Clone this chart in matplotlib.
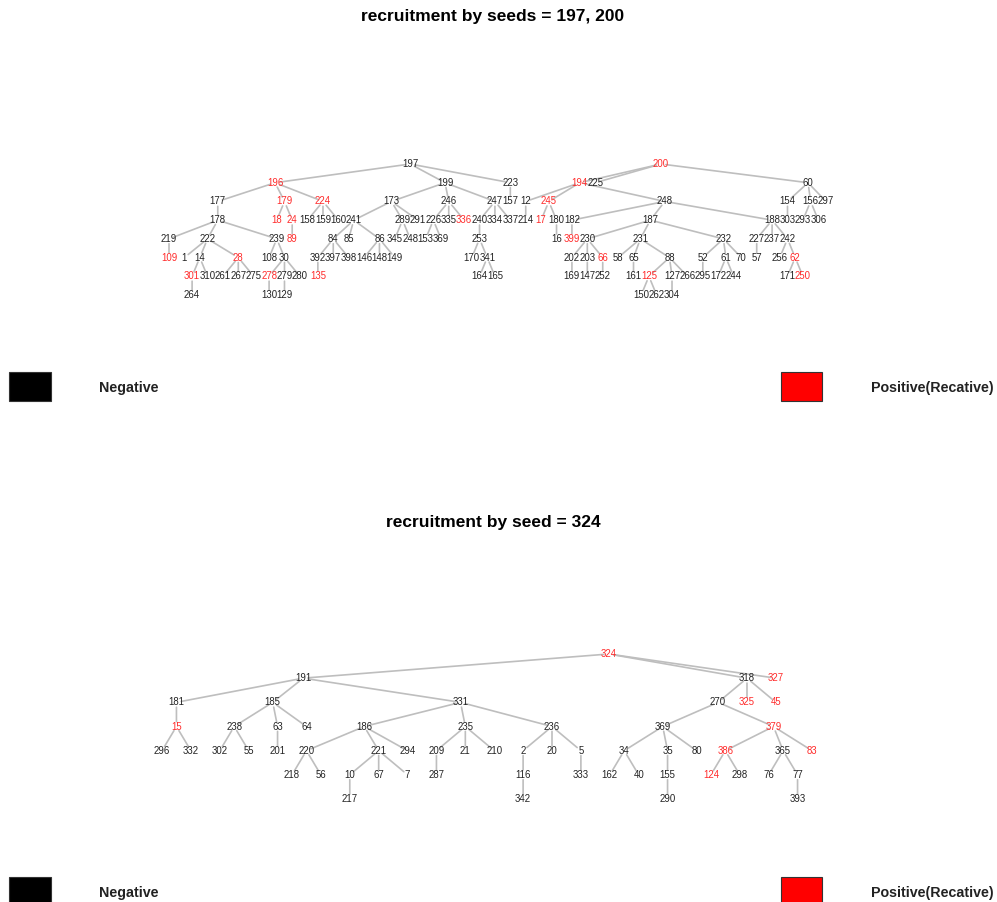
import matplotlib
matplotlib.use("Agg")
import matplotlib.pyplot as plt
from matplotlib.patches import Rectangle

plt.rcParams['font.family'] = ['Liberation Sans', 'DejaVu Sans']

# ------------------------------------------------------------------ data
top_title = "recruitment by seeds = 197, 200"
top_roots = [197, 200]
top_children = [
    (197, [196, 199, 223]),
    (196, [177, 179, 224]),
    (177, [178]),
    (178, [219, 222, 239]),
    (219, [109]),
    (222, [1, 14, 28]),
    (14, [301, 310]),
    (301, [264]),
    (28, [261, 267, 275]),
    (239, [108, 30]),
    (30, [278, 279, 280]),
    (278, [130]),
    (279, [129]),
    (179, [18, 24]),
    (24, [89]),
    (224, [158, 159, 160]),
    (199, [173, 246, 247]),
    (173, [241, 289, 291]),
    (241, [84, 85, 86]),
    (84, [392, 397, 398]),
    (392, [135]),
    (86, [146, 148, 149]),
    (289, [345, 248]),
    (246, [226, 335, 336]),
    (226, [153, 369]),
    (247, [240, 334, 337]),
    (240, [253]),
    (253, [170, 341]),
    (341, [164, 165]),
    (223, [157]),
    (200, [194, 225, 60]),
    (194, [12, 245, 1248]),
    (12, [214]),
    (245, [17, 180]),
    (180, [16]),
    (1248, [182, 187, 188]),
    (182, [399]),
    (187, [230, 231, 232]),
    (230, [202, 203, 66]),
    (202, [169]),
    (203, [147]),
    (66, [252]),
    (231, [58, 65, 88]),
    (65, [161]),
    (88, [125, 127, 266]),
    (125, [150, 262]),
    (127, [304]),
    (232, [52, 61, 70]),
    (52, [295]),
    (61, [172, 244]),
    (188, [227, 237, 242]),
    (227, [57]),
    (242, [256, 62]),
    (62, [171, 250]),
    (60, [154, 156, 297]),
    (154, [303]),
    (156, [293, 306]),
]
# node ids whose printed label differs from the id (duplicate label in picture)
top_label_override = {1248: "248"}
top_positive = [196, 179, 224, 18, 24, 89, 109, 301, 28, 278, 135, 336,
                200, 194, 245, 17, 399, 66, 125, 62, 250]

bottom_title = "recruitment by seed = 324"
bottom_roots = [324]
bottom_children = [
    (324, [191, 318, 327]),
    (191, [181, 185, 331]),
    (181, [15]),
    (15, [296, 332]),
    (185, [238, 63, 64]),
    (238, [302, 55]),
    (63, [201]),
    (331, [186, 235, 236]),
    (186, [220, 221, 294]),
    (220, [218, 56]),
    (221, [10, 67, 7]),
    (10, [217]),
    (235, [209, 21, 210]),
    (209, [287]),
    (236, [2, 20, 5]),
    (2, [116]),
    (116, [342]),
    (5, [333]),
    (318, [270, 325, 45]),
    (270, [369, 379]),
    (369, [34, 35, 80]),
    (34, [162, 40]),
    (35, [155]),
    (155, [290]),
    (379, [386, 365, 83]),
    (386, [124, 298]),
    (365, [76, 77]),
    (77, [393]),
]
bottom_label_override = {}
bottom_positive = [324, 327, 325, 45, 379, 15, 386, 83, 124]

legend_labels = ["Negative", "Positive(Recative)"]
legend_colors = ["black", "red"]

EDGE_COLOR = "#bebebe"
NEG_COLOR = "#222222"
POS_COLOR = "#ff2a2a"


# ------------------------------------------------------------------ layout
def tree_layout(children, roots):
    """Reingold-Tilford style layout; parent at mean of children."""
    kids_of = dict(children)
    VROOT = "__root__"
    kids_of[VROOT] = list(roots)

    def place(n):
        kids = kids_of.get(n, [])
        if not kids:
            return {n: (0.0, 0)}, {0: (0.0, 0.0)}
        pos = {}
        acc = {}
        child_x = []
        for i, k in enumerate(kids):
            p, c = place(k)
            shift = 0.0
            if i > 0:
                cands = [acc[d + 1][1] + 1.0 - c[d][0] for d in c if (d + 1) in acc]
                shift = max(cands)
            for node, (x, d) in p.items():
                pos[node] = (x + shift, d + 1)
            for d, (mn, mx) in c.items():
                mn += shift
                mx += shift
                if d + 1 in acc:
                    acc[d + 1] = (min(acc[d + 1][0], mn), max(acc[d + 1][1], mx))
                else:
                    acc[d + 1] = (mn, mx)
            child_x.append(p[k][0] + shift)
        xn = sum(child_x) / len(child_x)
        pos[n] = (xn, 0)
        contour = {0: (xn, xn)}
        contour.update(acc)
        return pos, contour

    pos, _ = place(VROOT)
    del pos[VROOT]
    return {n: (x, d - 1) for n, (x, d) in pos.items()}


def draw_tree(ax, children, roots, positive, overrides):
    pos = tree_layout(children, roots)
    xs = [p[0] for p in pos.values()]
    ds = [p[1] for p in pos.values()]
    xmin, xmax = min(xs), max(xs)
    dmax = max(ds)

    def norm(n):
        x, d = pos[n]
        return (2 * (x - xmin) / (xmax - xmin) - 1, 1 - 2 * d / dmax)

    ax.set_xlim(-1, 1)
    ax.set_ylim(-1, 1)
    ax.axis("off")
    for parent, kids in children:
        for k in kids:
            ax.annotate("", xy=norm(k), xytext=norm(parent),
                        arrowprops=dict(arrowstyle="-", color=EDGE_COLOR,
                                        lw=1.2, shrinkA=3.5, shrinkB=3.5),
                        zorder=1, annotation_clip=False)
    pos_set = set(positive)
    for n in pos:
        x, y = norm(n)
        ax.text(x, y, overrides.get(n, str(n)), ha="center", va="center",
                fontsize=6.9, color=POS_COLOR if n in pos_set else NEG_COLOR,
                zorder=3, clip_on=False)


W, H = 997, 902
fig = plt.figure(figsize=(W / 100, H / 100), dpi=100)


def fig_axes(x0, x1, ytop, ybot):
    return fig.add_axes([x0 / W, 1 - ybot / H, (x1 - x0) / W, (ybot - ytop) / H])


def legend(ypix_top, ypix_bot, ytext):
    for (x0, x1, tx), lab, col in zip([(9, 51, 99), (781, 822, 871)],
                                      legend_labels, legend_colors):
        fig.add_artist(Rectangle((x0 / W, 1 - ypix_bot / H), (x1 - x0) / W,
                                 (ypix_bot - ypix_top) / H, transform=fig.transFigure,
                                 facecolor=col, edgecolor="#333333", lw=0.8))
        fig.text(tx / W, 1 - ytext / H, lab, ha="left", va="center",
                 fontsize=10.3, fontweight="bold", color="#222222")


# top panel
fig.text(493 / W, 1 - 17 / H, top_title, ha="center", va="center",
         fontsize=12.5, fontweight="bold")
ax1 = fig_axes(169, 826, 164, 295)
draw_tree(ax1, top_children, top_roots, top_positive, top_label_override)
legend(372, 401, 388)

# bottom panel
fig.text(493 / W, 1 - 523 / H, bottom_title, ha="center", va="center",
         fontsize=12.5, fontweight="bold")
ax2 = fig_axes(162, 812, 654, 799)
draw_tree(ax2, bottom_children, bottom_roots, bottom_positive, bottom_label_override)
legend(877, 906, 893)

fig.savefig("out.png", dpi=100)
